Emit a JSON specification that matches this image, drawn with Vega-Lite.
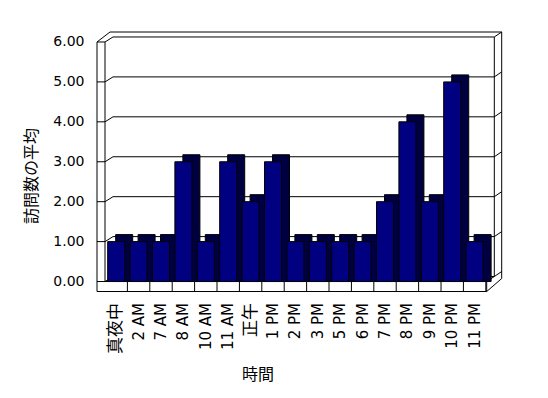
{
  "$schema": "https://vega.github.io/schema/vega-lite/v6.json",
  "autosize": "none",
  "width": 404.7,
  "height": 259.5,
  "padding": {"left": 97, "top": 32, "right": 46.3, "bottom": 106.5},
  "background": "white",
  "config": {"view": {"stroke": null}},
  "datasets": {
    "visits": [
      {"t": "真夜中", "v": 1},
      {"t": "2 AM", "v": 1},
      {"t": "7 AM", "v": 1},
      {"t": "8 AM", "v": 3},
      {"t": "10 AM", "v": 1},
      {"t": "11 AM", "v": 3},
      {"t": "正午", "v": 2},
      {"t": "1 PM", "v": 3},
      {"t": "2 PM", "v": 1},
      {"t": "3 PM", "v": 1},
      {"t": "5 PM", "v": 1},
      {"t": "6 PM", "v": 1},
      {"t": "7 PM", "v": 2},
      {"t": "8 PM", "v": 4},
      {"t": "9 PM", "v": 2},
      {"t": "10 PM", "v": 5},
      {"t": "11 PM", "v": 1}
    ],
    "grid": [{"g": 0}, {"g": 1}, {"g": 2}, {"g": 3}, {"g": 4}, {"g": 5}, {"g": 6}],
    "one": [{}]
  },
  "layer": [
    {
      "data": {"name": "visits"},
      "mark": {"type": "bar", "opacity": 0},
      "encoding": {
        "x": {
          "field": "t", "type": "nominal", "sort": null,
          "scale": {"type": "band", "domain": ["真夜中","2 AM","7 AM","8 AM","10 AM","11 AM","正午","1 PM","2 PM","3 PM","5 PM","6 PM","7 PM","8 PM","9 PM","10 PM","11 PM"], "paddingInner": 0.24, "paddingOuter": 0.653, "align": 0.365},
          "axis": {
            "title": "時間", "domain": false, "ticks": false, "grid": false,
            "labelAngle": -90, "labelAlign": "right", "labelBaseline": "middle", "labelPadding": 11,
            "labelFont": {"condition": {"test": "datum.label == '真夜中' || datum.label == '正午'", "value": "Noto Sans CJK JP"}, "value": "DejaVu Sans"},
            "labelFontSize": {"condition": {"test": "datum.label == '真夜中' || datum.label == '正午'", "value": 17}, "value": 15},
            "labelColor": "black", "labelOverlap": false,
            "titleFont": "Noto Sans CJK JP", "titleFontSize": 16, "titleFontWeight": "normal", "titleColor": "black",
            "titleX": 160.5, "titleY": 83, "titleBaseline": "middle", "titleAlign": "center"
          }
        },
        "y": {
          "field": "v", "type": "quantitative",
          "scale": {"domain": [-0.25, 6.25], "zero": false, "nice": false},
          "axis": {
            "title": "訪問数の平均", "values": [0, 1, 2, 3, 4, 5, 6], "format": ".2f",
            "domain": false, "ticks": false, "grid": false, "labelPadding": 13,
            "labelFont": "DejaVu Sans", "labelFontSize": 14, "labelColor": "black", "labelBaseline": "middle",
            "titleFont": "Noto Sans CJK JP", "titleFontSize": 16, "titleFontWeight": "normal", "titleColor": "black",
            "titleX": -65.3, "titleY": 143.5, "titleAngle": 270, "titleBaseline": "middle", "titleAlign": "center"
          }
        },
        "y2": {"datum": 0}
      }
    },
    {
      "data": {"name": "grid"},
      "mark": {"type": "rule", "color": "black", "strokeWidth": 1, "xOffset": 16, "x2Offset": -7.4, "yOffset": -5, "y2Offset": -5},
      "encoding": {
        "x": {"value": 0}, "x2": {"value": "width"},
        "y": {"field": "g", "type": "quantitative"},
        "y2": {"field": "g"}
      }
    },
    {
      "data": {"name": "grid"},
      "mark": {"type": "rule", "color": "black", "strokeWidth": 1, "x2Offset": 8},
      "encoding": {
        "x": {"value": 0}, "x2": {"value": 0},
        "y": {"field": "g", "type": "quantitative"},
        "y2": {"field": "g"}
      }
    },
    {
      "data": {"name": "grid"},
      "mark": {"type": "rule", "color": "black", "strokeWidth": 1, "xOffset": 8, "x2Offset": 16, "y2Offset": -5},
      "encoding": {
        "x": {"value": 0}, "x2": {"value": 0},
        "y": {"field": "g", "type": "quantitative"},
        "y2": {"field": "g"}
      }
    },
    {
      "data": {"name": "grid"},
      "mark": {"type": "rule", "color": "black", "strokeWidth": 1, "xOffset": -7.4, "yOffset": -5, "y2Offset": -10},
      "encoding": {
        "x": {"value": "width"}, "x2": {"value": "width"},
        "y": {"field": "g", "type": "quantitative"},
        "y2": {"field": "g"}
      }
    },
    {
      "data": {"name": "one"},
      "mark": {"type": "rule", "color": "black", "strokeWidth": 1},
      "encoding": {"x": {"value": 0}, "y": {"datum": 6, "type": "quantitative"}, "y2": {"datum": -0.25}}
    },
    {
      "data": {"name": "one"},
      "mark": {"type": "rule", "color": "black", "strokeWidth": 1, "xOffset": 8},
      "encoding": {"x": {"value": 0}, "y": {"datum": 6, "type": "quantitative"}, "y2": {"datum": 0}}
    },
    {
      "data": {"name": "one"},
      "mark": {"type": "rule", "color": "black", "strokeWidth": 1, "x2Offset": 13},
      "encoding": {"x": {"value": 0}, "x2": {"value": 0}, "y": {"datum": 6, "type": "quantitative"}, "y2": {"datum": 6.25}}
    },
    {
      "data": {"name": "one"},
      "mark": {"type": "rule", "color": "black", "strokeWidth": 1, "xOffset": 13},
      "encoding": {"x": {"value": 0}, "x2": {"value": "width"}, "y": {"datum": 6.25, "type": "quantitative"}, "y2": {"datum": 6.25}}
    },
    {
      "data": {"name": "one"},
      "mark": {"type": "rule", "color": "black", "strokeWidth": 1, "y2Offset": -3},
      "encoding": {"x": {"value": "width"}, "y": {"datum": 6.25, "type": "quantitative"}, "y2": {"datum": 0}}
    },
    {
      "data": {"name": "one"},
      "mark": {"type": "rule", "color": "black", "strokeWidth": 1, "xOffset": -7.4, "yOffset": -5, "y2Offset": -5},
      "encoding": {"x": {"value": "width"}, "y": {"datum": 6, "type": "quantitative"}, "y2": {"datum": 0}}
    },
    {
      "data": {"name": "one"},
      "mark": {"type": "rule", "color": "black", "strokeWidth": 1, "x2Offset": -15},
      "encoding": {"x": {"value": 0}, "x2": {"value": "width"}, "y": {"datum": -0.25, "type": "quantitative"}, "y2": {"datum": -0.25}}
    },
    {
      "data": {"name": "one"},
      "mark": {"type": "rule", "color": "black", "strokeWidth": 1, "xOffset": 8, "x2Offset": -15},
      "encoding": {"x": {"value": 0}, "x2": {"value": "width"}, "y": {"datum": 0, "type": "quantitative"}, "y2": {"datum": 0}}
    },
    {
      "data": {"name": "one"},
      "mark": {"type": "rule", "color": "black", "strokeWidth": 1, "xOffset": -15},
      "encoding": {"x": {"value": "width"}, "y": {"datum": 0, "type": "quantitative"}, "y2": {"datum": -0.25}}
    },
    {
      "data": {"name": "one"},
      "mark": {"type": "rule", "color": "black", "strokeWidth": 1, "xOffset": -15, "y2Offset": -3},
      "encoding": {"x": {"value": "width"}, "x2": {"value": "width"}, "y": {"datum": -0.25, "type": "quantitative"}, "y2": {"datum": 0}}
    },
    {
      "data": {"name": "one"},
      "mark": {"type": "rule", "color": "black", "strokeWidth": 1, "xOffset": -15, "x2Offset": -7.4, "y2Offset": -5},
      "encoding": {"x": {"value": "width"}, "x2": {"value": "width"}, "y": {"datum": 0, "type": "quantitative"}, "y2": {"datum": 0}}
    },
    {
      "data": {"name": "visits"},
      "mark": {"type": "rule", "color": "black", "strokeWidth": 1, "xOffset": 2.7},
      "encoding": {
        "x": {"field": "t", "type": "nominal", "sort": null, "bandPosition": 1},
        "y": {"datum": 0, "type": "quantitative"},
        "y2": {"datum": -0.25}
      }
    },
    {
      "data": {"name": "visits"},
      "mark": {"type": "bar", "fill": "#000040", "stroke": "black", "strokeWidth": 1, "xOffset": 8, "yOffset": -7},
      "encoding": {
        "x": {"field": "t", "type": "nominal", "sort": null},
        "y": {"field": "v", "type": "quantitative"},
        "y2": {"datum": 0}
      }
    },
    {
      "data": {"name": "visits"},
      "mark": {"type": "bar", "fill": "#000080", "stroke": "black", "strokeWidth": 1},
      "encoding": {
        "x": {"field": "t", "type": "nominal", "sort": null},
        "y": {"field": "v", "type": "quantitative"},
        "y2": {"datum": 0}
      }
    }
  ]
}
